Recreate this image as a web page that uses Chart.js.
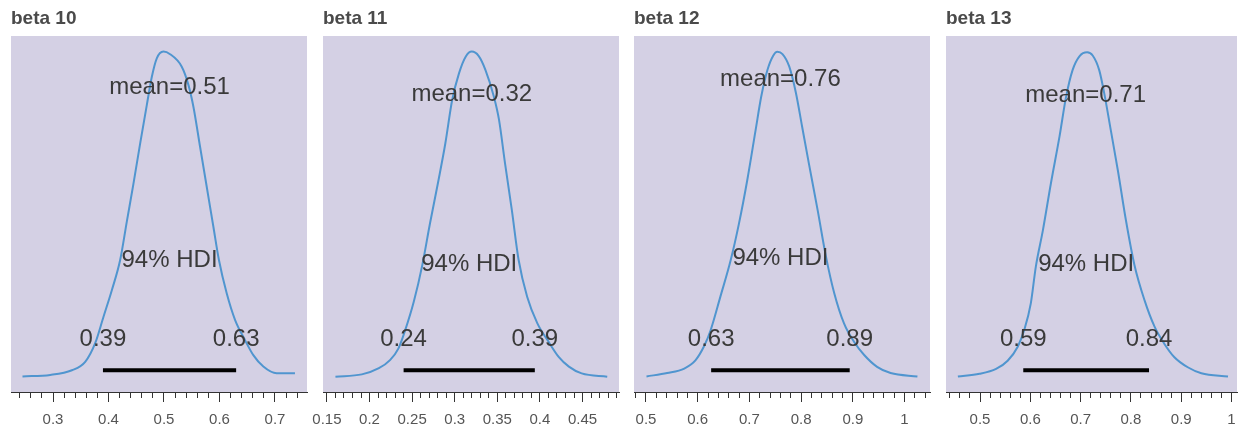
<!DOCTYPE html>
<html>
<head>
<meta charset="utf-8">
<script src="https://cdn.jsdelivr.net/npm/chart.js@4.4.1/dist/chart.umd.min.js"></script>
<style>
  html, body { margin: 0; padding: 0; background: #fff; overflow: hidden; }
  body { width: 1242px; height: 429px; position: relative; }
  canvas { position: absolute; top: 0; }
</style>
</head>
<body>
<script>
// posterior densities of beta 10..13, one panel each
const titles = ["beta 10", "beta 11", "beta 12", "beta 13"];
const means = [0.51, 0.32, 0.76, 0.71];
const hdiLow = [0.39, 0.24, 0.626, 0.586];
const hdiHigh = [0.63, 0.394, 0.894, 0.836];
const hdiText = "94% HDI";

const kdeX10 = [0.245, 0.295, 0.334, 0.358, 0.376, 0.391, 0.406, 0.421, 0.433, 0.445, 0.457, 0.469, 0.478, 0.487, 0.499, 0.511, 0.532, 0.544, 0.553, 0.565, 0.577, 0.589, 0.599, 0.613, 0.628, 0.646, 0.661, 0.679, 0.703, 0.736];
const kdeY10 = [0.01, 0.04, 0.13, 0.29, 0.65, 1.16, 1.67, 2.25, 2.99, 3.72, 4.49, 5.23, 5.77, 6.13, 6.26, 6.21, 5.97, 5.62, 5.20, 4.43, 3.66, 2.89, 2.25, 1.61, 1.10, 0.71, 0.42, 0.20, 0.07, 0.07];

const kdeX11 = [0.160, 0.191, 0.211, 0.224, 0.234, 0.242, 0.252, 0.262, 0.271, 0.281, 0.289, 0.297, 0.305, 0.313, 0.320, 0.328, 0.336, 0.346, 0.352, 0.359, 0.367, 0.375, 0.385, 0.397, 0.410, 0.422, 0.434, 0.449, 0.479];
const kdeY11 = [0.01, 0.08, 0.27, 0.52, 0.88, 1.45, 2.32, 3.45, 4.73, 6.06, 7.19, 8.52, 9.34, 9.86, 10.01, 9.88, 9.45, 8.62, 7.91, 6.58, 5.14, 3.60, 2.47, 1.65, 1.09, 0.62, 0.32, 0.11, 0.01];

const kdeX12 = [0.501, 0.541, 0.574, 0.596, 0.612, 0.625, 0.644, 0.664, 0.680, 0.696, 0.712, 0.723, 0.735, 0.746, 0.754, 0.764, 0.777, 0.790, 0.802, 0.815, 0.832, 0.848, 0.864, 0.883, 0.902, 0.922, 0.947, 0.973, 1.025];
const kdeY12 = [0.01, 0.07, 0.15, 0.30, 0.54, 0.83, 1.43, 2.08, 2.73, 3.50, 4.38, 4.98, 5.45, 5.70, 5.77, 5.73, 5.51, 5.04, 4.44, 3.79, 2.96, 2.14, 1.49, 0.95, 0.63, 0.39, 0.18, 0.07, 0.01];

const kdeX13 = [0.456, 0.499, 0.532, 0.555, 0.575, 0.588, 0.601, 0.611, 0.625, 0.641, 0.658, 0.671, 0.684, 0.698, 0.713, 0.724, 0.737, 0.747, 0.760, 0.774, 0.790, 0.807, 0.827, 0.847, 0.866, 0.886, 0.913, 0.940, 0.993];
const kdeY13 = [0.01, 0.06, 0.15, 0.30, 0.56, 0.87, 1.36, 2.04, 2.71, 3.58, 4.44, 5.17, 5.67, 5.93, 6.00, 5.94, 5.67, 5.24, 4.56, 3.82, 2.90, 2.07, 1.42, 0.93, 0.62, 0.37, 0.18, 0.07, 0.01];

const ticks10 = [0.3, 0.4, 0.5, 0.6, 0.7];
const ticks11 = [0.15, 0.2, 0.25, 0.3, 0.35, 0.4, 0.45];
const ticks12 = [0.5, 0.6, 0.7, 0.8, 0.9, 1];
const ticks13 = [0.5, 0.6, 0.7, 0.8, 0.9, 1];
const minorStep = [0.02, 0.01, 0.02, 0.02];

// layout per panel (plot area in page px, axis ranges, text heights as share of y max)
const panels = [
  { left: 11,  right: 307,  xMin: 0.2243, xMax: 0.7577, yMax: 6.56,  meanAt: 0.85,  hdiAt: 0.343, xs: kdeX10, ys: kdeY10, majors: ticks10 },
  { left: 323, right: 619,  xMin: 0.1454, xMax: 0.4928, yMax: 10.49, meanAt: 0.83,  hdiAt: 0.329, xs: kdeX11, ys: kdeY11, majors: ticks11 },
  { left: 634, right: 930,  xMin: 0.4768, xMax: 1.0493, yMax: 6.05,  meanAt: 0.874, hdiAt: 0.349, xs: kdeX12, ys: kdeY12, majors: ticks12 },
  { left: 946, right: 1237, xMin: 0.4324, xMax: 1.0109, yMax: 6.30,  meanAt: 0.827, hdiAt: 0.329, xs: kdeX13, ys: kdeY13, majors: ticks13 },
];

const FONT = "'Liberation Sans', Arial, sans-serif";
const PAD = 20;
const TOP = 36, AXIS_H = 37, H = 429;
const TITLE_SIZE = 19;

const panelBg = {
  id: "panelBg",
  beforeDraw(chart) {
    const { ctx, chartArea: a } = chart;
    ctx.save();
    ctx.fillStyle = "#d4d0e4";
    ctx.fillRect(a.left, a.top, a.right - a.left, a.bottom - a.top);
    ctx.restore();
  },
};

const hdiNotes = {
  id: "hdiNotes",
  afterDatasetsDraw(chart, args, o) {
    const { ctx, scales: { x, y } } = chart;
    ctx.save();
    ctx.font = `24px ${FONT}`;
    ctx.fillStyle = "#3a3a3a";
    ctx.textAlign = "center";
    ctx.textBaseline = "middle";
    ctx.fillText("mean=" + o.mean.toFixed(2), x.getPixelForValue(o.mean), y.getPixelForValue(o.meanAt * o.yMax));
    ctx.fillText(hdiText, x.getPixelForValue((o.lo + o.hi) / 2), y.getPixelForValue(o.hdiAt * o.yMax));
    const vy = y.getPixelForValue(0.11 * o.yMax);
    ctx.fillText(o.lo.toFixed(2), x.getPixelForValue(o.lo), vy);
    ctx.fillText(o.hi.toFixed(2), x.getPixelForValue(o.hi), vy);
    ctx.restore();
  },
};

panels.forEach((p, i) => {
  const cv = document.createElement("canvas");
  const w = p.right - p.left + PAD * 2;
  cv.width = w; cv.height = H;
  cv.style.left = (p.left - PAD) + "px";
  cv.style.width = w + "px"; cv.style.height = H + "px";
  document.body.appendChild(cv);

  const step = minorStep[i];
  const tickVals = [];
  for (let k = Math.ceil(p.xMin / step - 1e-9); k * step <= p.xMax + 1e-9; k++) tickVals.push(+(k * step).toFixed(4));
  const isMajor = (v) => p.majors.some((m) => Math.abs(m - v) < 1e-6);
  const barY = 0.02 * p.yMax;

  new Chart(cv, {
    type: "line",
    data: {
      datasets: [
        {
          data: p.xs.map((x, j) => ({ x, y: p.ys[j] })),
          borderColor: "#5095cf", borderWidth: 2, pointRadius: 0, cubicInterpolationMode: "monotone", fill: false,
        },
        {
          data: [{ x: hdiLow[i], y: barY }, { x: hdiHigh[i], y: barY }],
          borderColor: "#000", borderWidth: 4, pointRadius: 0, tension: 0, borderCapStyle: "butt",
        },
      ],
    },
    options: {
      responsive: false, animation: false, events: [],
      layout: { padding: { left: PAD, right: PAD, top: 0, bottom: 0 } },
      plugins: {
        legend: { display: false },
        tooltip: { enabled: false },
        title: {
          display: true, text: titles[i], align: "start", color: "#4a4a4a",
          font: { family: FONT, size: TITLE_SIZE, weight: "bold", lineHeight: 1.2 },
          padding: { top: 7, bottom: TOP - 7 - TITLE_SIZE * 1.2 },
        },
        hdiNotes: { mean: means[i], lo: hdiLow[i], hi: hdiHigh[i], yMax: p.yMax, meanAt: p.meanAt, hdiAt: p.hdiAt },
      },
      scales: {
        x: {
          type: "linear", min: p.xMin, max: p.xMax,
          afterBuildTicks: (s) => { s.ticks = tickVals.map((v) => ({ value: v })); },
          afterFit: (s) => { s.height = AXIS_H; s.paddingLeft = 0; s.paddingRight = 0; },
          ticks: {
            autoSkip: false, maxRotation: 0, padding: 9, color: "#555",
            font: { family: FONT, size: 15 },
            callback: (v) => (isMajor(v) ? String(Math.round(v * 100) / 100) : ""),
          },
          grid: {
            drawOnChartArea: false, tickLength: 10, tickColor: "#333",
            tickBorderDash: (c) => (c.tick && isMajor(c.tick.value) ? [] : [5, 30]),
          },
          border: { color: "#333", width: 1 },
        },
        y: { display: false, min: -0.044 * p.yMax, max: p.yMax },
      },
    },
    plugins: [panelBg, hdiNotes],
  });
});
</script>
</body>
</html>
